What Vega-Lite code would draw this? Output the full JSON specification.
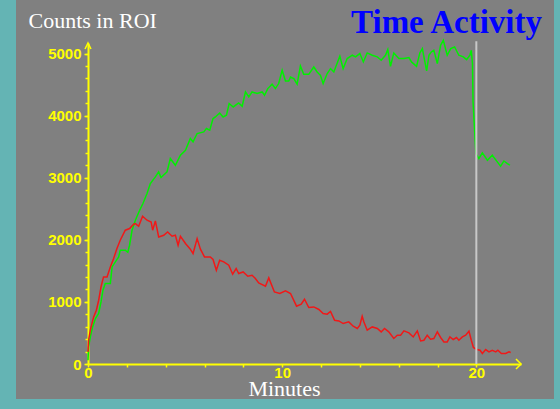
{
  "$schema": "https://vega.github.io/schema/vega-lite/v6.json",
  "width": 538,
  "height": 399,
  "autosize": {"type": "none"},
  "padding": {"left": 16, "top": 0, "right": 6, "bottom": 10},
  "background": "#64b4b4",
  "config": {"view": {"fill": "#808080", "stroke": null}, "axis": {"labelOverlap": false, "labelFlush": false, "labelBound": false, "grid": false}},
  "title": {"text": "Time Activity", "anchor": "end", "frame": "group", "font": "Liberation Serif", "fontSize": 33, "fontWeight": "bold", "color": "#0000ff", "offset": -35, "baseline": "alphabetic", "dx": -12, "dy": 31},
  "resolve": {"axis": {"y": "independent"}},
  "datasets": {
    "roi": [
      {"min":0,"counts":60,"roi":"ROI 1"},{"min":0.03,"counts":275,"roi":"ROI 1"},{"min":0.12,"counts":436,"roi":"ROI 1"},{"min":0.24,"counts":597,"roi":"ROI 1"},{"min":0.38,"counts":733,"roi":"ROI 1"},{"min":0.55,"counts":813,"roi":"ROI 1"},{"min":0.67,"counts":1000,"roi":"ROI 1"},{"min":0.77,"counts":1188,"roi":"ROI 1"},{"min":0.89,"counts":1296,"roi":"ROI 1"},{"min":1.15,"counts":1296,"roi":"ROI 1"},{"min":1.24,"counts":1564,"roi":"ROI 1"},{"min":1.41,"counts":1644,"roi":"ROI 1"},{"min":1.58,"counts":1725,"roi":"ROI 1"},{"min":1.66,"counts":1833,"roi":"ROI 1"},{"min":1.92,"counts":1833,"roi":"ROI 1"},{"min":2.05,"counts":1800,"roi":"ROI 1"},{"min":2.14,"counts":1913,"roi":"ROI 1"},{"min":2.27,"counts":2155,"roi":"ROI 1"},{"min":2.44,"counts":2316,"roi":"ROI 1"},{"min":2.66,"counts":2477,"roi":"ROI 1"},{"min":2.83,"counts":2585,"roi":"ROI 1"},{"min":3.04,"counts":2746,"roi":"ROI 1"},{"min":3.21,"counts":2907,"roi":"ROI 1"},{"min":3.47,"counts":3013,"roi":"ROI 1"},{"min":3.64,"counts":3094,"roi":"ROI 1"},{"min":3.76,"counts":3003,"roi":"ROI 1"},{"min":4.07,"counts":3094,"roi":"ROI 1"},{"min":4.24,"counts":3309,"roi":"ROI 1"},{"min":4.5,"counts":3201,"roi":"ROI 1"},{"min":4.76,"counts":3362,"roi":"ROI 1"},{"min":5.02,"counts":3443,"roi":"ROI 1"},{"min":5.27,"counts":3631,"roi":"ROI 1"},{"min":5.41,"counts":3577,"roi":"ROI 1"},{"min":5.62,"counts":3712,"roi":"ROI 1"},{"min":5.96,"counts":3738,"roi":"ROI 1"},{"min":6.1,"counts":3792,"roi":"ROI 1"},{"min":6.27,"counts":3765,"roi":"ROI 1"},{"min":6.44,"counts":3953,"roi":"ROI 1"},{"min":6.56,"counts":3979,"roi":"ROI 1"},{"min":6.78,"counts":4043,"roi":"ROI 1"},{"min":6.96,"counts":3979,"roi":"ROI 1"},{"min":7.13,"counts":4006,"roi":"ROI 1"},{"min":7.27,"counts":4195,"roi":"ROI 1"},{"min":7.48,"counts":4140,"roi":"ROI 1"},{"min":7.76,"counts":4205,"roi":"ROI 1"},{"min":7.94,"counts":4151,"roi":"ROI 1"},{"min":8.11,"counts":4382,"roi":"ROI 1"},{"min":8.28,"counts":4301,"roi":"ROI 1"},{"min":8.45,"counts":4382,"roi":"ROI 1"},{"min":8.71,"counts":4356,"roi":"ROI 1"},{"min":8.97,"counts":4382,"roi":"ROI 1"},{"min":9.09,"counts":4328,"roi":"ROI 1"},{"min":9.26,"counts":4436,"roi":"ROI 1"},{"min":9.48,"counts":4506,"roi":"ROI 1"},{"min":9.65,"counts":4436,"roi":"ROI 1"},{"min":9.82,"counts":4517,"roi":"ROI 1"},{"min":10.0,"counts":4731,"roi":"ROI 1"},{"min":10.17,"counts":4559,"roi":"ROI 1"},{"min":10.34,"counts":4559,"roi":"ROI 1"},{"min":10.43,"counts":4623,"roi":"ROI 1"},{"min":10.6,"counts":4597,"roi":"ROI 1"},{"min":10.77,"counts":4506,"roi":"ROI 1"},{"min":10.94,"counts":4800,"roi":"ROI 1"},{"min":11.11,"counts":4665,"roi":"ROI 1"},{"min":11.37,"counts":4665,"roi":"ROI 1"},{"min":11.63,"counts":4784,"roi":"ROI 1"},{"min":11.8,"counts":4704,"roi":"ROI 1"},{"min":11.97,"counts":4650,"roi":"ROI 1"},{"min":12.11,"counts":4517,"roi":"ROI 1"},{"min":12.32,"counts":4678,"roi":"ROI 1"},{"min":12.49,"counts":4758,"roi":"ROI 1"},{"min":12.66,"counts":4704,"roi":"ROI 1"},{"min":12.97,"counts":4957,"roi":"ROI 1"},{"min":13.14,"counts":4758,"roi":"ROI 1"},{"min":13.35,"counts":4919,"roi":"ROI 1"},{"min":13.61,"counts":4973,"roi":"ROI 1"},{"min":13.78,"counts":4946,"roi":"ROI 1"},{"min":14.0,"counts":5000,"roi":"ROI 1"},{"min":14.18,"counts":4865,"roi":"ROI 1"},{"min":14.38,"counts":5010,"roi":"ROI 1"},{"min":14.64,"counts":4973,"roi":"ROI 1"},{"min":14.9,"counts":4946,"roi":"ROI 1"},{"min":15.1,"counts":4892,"roi":"ROI 1"},{"min":15.32,"counts":4973,"roi":"ROI 1"},{"min":15.44,"counts":5064,"roi":"ROI 1"},{"min":15.58,"counts":4795,"roi":"ROI 1"},{"min":15.75,"counts":5010,"roi":"ROI 1"},{"min":16.01,"counts":4919,"roi":"ROI 1"},{"min":16.27,"counts":4919,"roi":"ROI 1"},{"min":16.53,"counts":4935,"roi":"ROI 1"},{"min":16.66,"counts":4865,"roi":"ROI 1"},{"min":16.92,"counts":4795,"roi":"ROI 1"},{"min":17.09,"counts":5010,"roi":"ROI 1"},{"min":17.22,"counts":5080,"roi":"ROI 1"},{"min":17.44,"counts":4720,"roi":"ROI 1"},{"min":17.56,"counts":4973,"roi":"ROI 1"},{"min":17.68,"counts":5026,"roi":"ROI 1"},{"min":17.81,"counts":5053,"roi":"ROI 1"},{"min":17.99,"counts":4839,"roi":"ROI 1"},{"min":18.16,"counts":5134,"roi":"ROI 1"},{"min":18.3,"counts":5214,"roi":"ROI 1"},{"min":18.5,"counts":4973,"roi":"ROI 1"},{"min":18.68,"counts":5080,"roi":"ROI 1"},{"min":18.88,"counts":5106,"roi":"ROI 1"},{"min":19.1,"counts":4973,"roi":"ROI 1"},{"min":19.33,"counts":4946,"roi":"ROI 1"},{"min":19.5,"counts":4903,"roi":"ROI 1"},{"min":19.67,"counts":4973,"roi":"ROI 1"},{"min":19.74,"counts":5053,"roi":"ROI 1"},{"min":19.8,"counts":4840,"roi":"ROI 1"},{"min":19.83,"counts":4230,"roi":"ROI 1"},{"min":19.93,"counts":3650,"roi":"ROI 1"},{"min":19.98,"counts":3390,"roi":"ROI 1"},{"min":20.13,"counts":3309,"roi":"ROI 1"},{"min":20.31,"counts":3400,"roi":"ROI 1"},{"min":20.57,"counts":3282,"roi":"ROI 1"},{"min":20.82,"counts":3362,"roi":"ROI 1"},{"min":21.08,"counts":3255,"roi":"ROI 1"},{"min":21.25,"counts":3185,"roi":"ROI 1"},{"min":21.42,"counts":3270,"roi":"ROI 1"},{"min":21.6,"counts":3229,"roi":"ROI 1"},{"min":21.73,"counts":3201,"roi":"ROI 1"},
      {"min":0,"counts":195,"roi":"ROI 2"},{"min":0.03,"counts":383,"roi":"ROI 2"},{"min":0.12,"counts":544,"roi":"ROI 2"},{"min":0.29,"counts":758,"roi":"ROI 2"},{"min":0.43,"counts":866,"roi":"ROI 2"},{"min":0.55,"counts":1027,"roi":"ROI 2"},{"min":0.67,"counts":1242,"roi":"ROI 2"},{"min":0.8,"counts":1403,"roi":"ROI 2"},{"min":0.98,"counts":1403,"roi":"ROI 2"},{"min":1.15,"counts":1564,"roi":"ROI 2"},{"min":1.32,"counts":1699,"roi":"ROI 2"},{"min":1.49,"counts":1860,"roi":"ROI 2"},{"min":1.66,"counts":1994,"roi":"ROI 2"},{"min":1.92,"counts":2155,"roi":"ROI 2"},{"min":2.14,"counts":2182,"roi":"ROI 2"},{"min":2.35,"counts":2251,"roi":"ROI 2"},{"min":2.44,"counts":2262,"roi":"ROI 2"},{"min":2.61,"counts":2219,"roi":"ROI 2"},{"min":2.81,"counts":2380,"roi":"ROI 2"},{"min":3.04,"counts":2316,"roi":"ROI 2"},{"min":3.25,"counts":2288,"roi":"ROI 2"},{"min":3.33,"counts":2155,"roi":"ROI 2"},{"min":3.47,"counts":2304,"roi":"ROI 2"},{"min":3.64,"counts":2047,"roi":"ROI 2"},{"min":3.9,"counts":2074,"roi":"ROI 2"},{"min":4.1,"counts":2127,"roi":"ROI 2"},{"min":4.33,"counts":2058,"roi":"ROI 2"},{"min":4.5,"counts":2074,"roi":"ROI 2"},{"min":4.64,"counts":1913,"roi":"ROI 2"},{"min":4.76,"counts":2058,"roi":"ROI 2"},{"min":5.02,"counts":1940,"roi":"ROI 2"},{"min":5.27,"counts":1850,"roi":"ROI 2"},{"min":5.41,"counts":1779,"roi":"ROI 2"},{"min":5.62,"counts":2020,"roi":"ROI 2"},{"min":5.79,"counts":1850,"roi":"ROI 2"},{"min":6.0,"counts":1725,"roi":"ROI 2"},{"min":6.3,"counts":1725,"roi":"ROI 2"},{"min":6.44,"counts":1683,"roi":"ROI 2"},{"min":6.61,"counts":1510,"roi":"ROI 2"},{"min":6.78,"counts":1671,"roi":"ROI 2"},{"min":6.99,"counts":1644,"roi":"ROI 2"},{"min":7.25,"counts":1591,"roi":"ROI 2"},{"min":7.45,"counts":1446,"roi":"ROI 2"},{"min":7.63,"counts":1538,"roi":"ROI 2"},{"min":7.76,"counts":1457,"roi":"ROI 2"},{"min":7.99,"counts":1483,"roi":"ROI 2"},{"min":8.23,"counts":1414,"roi":"ROI 2"},{"min":8.45,"counts":1430,"roi":"ROI 2"},{"min":8.62,"counts":1377,"roi":"ROI 2"},{"min":8.79,"counts":1306,"roi":"ROI 2"},{"min":9.14,"counts":1253,"roi":"ROI 2"},{"min":9.31,"counts":1387,"roi":"ROI 2"},{"min":9.6,"counts":1161,"roi":"ROI 2"},{"min":9.88,"counts":1135,"roi":"ROI 2"},{"min":10.17,"counts":1177,"roi":"ROI 2"},{"min":10.43,"counts":1135,"roi":"ROI 2"},{"min":10.74,"counts":931,"roi":"ROI 2"},{"min":10.98,"counts":963,"roi":"ROI 2"},{"min":11.15,"counts":1043,"roi":"ROI 2"},{"min":11.37,"counts":910,"roi":"ROI 2"},{"min":11.63,"counts":919,"roi":"ROI 2"},{"min":11.89,"counts":878,"roi":"ROI 2"},{"min":12.11,"counts":813,"roi":"ROI 2"},{"min":12.32,"counts":802,"roi":"ROI 2"},{"min":12.49,"counts":845,"roi":"ROI 2"},{"min":12.7,"counts":705,"roi":"ROI 2"},{"min":12.92,"counts":694,"roi":"ROI 2"},{"min":13.14,"counts":652,"roi":"ROI 2"},{"min":13.43,"counts":678,"roi":"ROI 2"},{"min":13.66,"counts":609,"roi":"ROI 2"},{"min":13.87,"counts":572,"roi":"ROI 2"},{"min":14.0,"counts":625,"roi":"ROI 2"},{"min":14.12,"counts":770,"roi":"ROI 2"},{"min":14.21,"counts":678,"roi":"ROI 2"},{"min":14.38,"counts":544,"roi":"ROI 2"},{"min":14.64,"counts":597,"roi":"ROI 2"},{"min":14.9,"counts":572,"roi":"ROI 2"},{"min":15.1,"counts":517,"roi":"ROI 2"},{"min":15.27,"counts":572,"roi":"ROI 2"},{"min":15.49,"counts":517,"roi":"ROI 2"},{"min":15.75,"counts":411,"roi":"ROI 2"},{"min":15.93,"counts":464,"roi":"ROI 2"},{"min":16.1,"counts":464,"roi":"ROI 2"},{"min":16.27,"counts":533,"roi":"ROI 2"},{"min":16.53,"counts":501,"roi":"ROI 2"},{"min":16.75,"counts":436,"roi":"ROI 2"},{"min":16.96,"counts":533,"roi":"ROI 2"},{"min":17.13,"counts":372,"roi":"ROI 2"},{"min":17.3,"counts":383,"roi":"ROI 2"},{"min":17.47,"counts":464,"roi":"ROI 2"},{"min":17.64,"counts":399,"roi":"ROI 2"},{"min":17.81,"counts":411,"roi":"ROI 2"},{"min":17.99,"counts":517,"roi":"ROI 2"},{"min":18.16,"counts":427,"roi":"ROI 2"},{"min":18.33,"counts":356,"roi":"ROI 2"},{"min":18.5,"counts":356,"roi":"ROI 2"},{"min":18.64,"counts":436,"roi":"ROI 2"},{"min":18.81,"counts":395,"roi":"ROI 2"},{"min":18.98,"counts":427,"roi":"ROI 2"},{"min":19.1,"counts":383,"roi":"ROI 2"},{"min":19.28,"counts":436,"roi":"ROI 2"},{"min":19.45,"counts":464,"roi":"ROI 2"},{"min":19.62,"counts":528,"roi":"ROI 2"},{"min":19.74,"counts":383,"roi":"ROI 2"},{"min":19.85,"counts":266,"roi":"ROI 2"},{"min":20.02,"counts":233,"roi":"ROI 2"},{"min":20.19,"counts":222,"roi":"ROI 2"},{"min":20.31,"counts":169,"roi":"ROI 2"},{"min":20.48,"counts":233,"roi":"ROI 2"},{"min":20.65,"counts":195,"roi":"ROI 2"},{"min":20.82,"counts":222,"roi":"ROI 2"},{"min":21.0,"counts":195,"roi":"ROI 2"},{"min":21.11,"counts":222,"roi":"ROI 2"},{"min":21.29,"counts":169,"roi":"ROI 2"},{"min":21.51,"counts":169,"roi":"ROI 2"},{"min":21.68,"counts":195,"roi":"ROI 2"},{"min":21.77,"counts":185,"roi":"ROI 2"}
    ]
  },
  "data": {"name": "roi"},
  "layer": [
    {
      "mark": {"type": "line", "strokeWidth": 1.5},
      "encoding": {
        "x": {
          "field": "min", "type": "quantitative",
          "scale": {"domain": [0, 22.3], "range": [72, 505], "nice": false, "zero": false},
          "axis": {
            "title": "Minutes", "values": [0, 2, 4, 6, 8, 10, 12, 14, 16, 18, 20], "format": "d",
            "labelExpr": "datum.value % 10 === 0 ? datum.label : ''",
            "offset": -35,
            "domainColor": "#ffff00", "domainWidth": 2,
            "tickColor": "#ffff00", "tickWidth": 1.5, "tickSize": 3,
            "labelColor": "#ffff00", "labelFont": "Liberation Sans", "labelFontSize": 15, "labelFontWeight": "bold",
            "labelPadding": -2,
            "titleColor": "#ffffff", "titleFont": "Liberation Serif", "titleFontSize": 22, "titleFontWeight": "normal",
            "titleX": 268, "titleY": 31, "titleBaseline": "alphabetic", "titleAlign": "center"
          }
        },
        "y": {
          "field": "counts", "type": "quantitative",
          "scale": {"domain": [0, 5170], "range": [364, 43], "nice": false, "zero": false},
          "axis": {
            "orient": "left",
            "title": "Counts in ROI",
            "values": [0, 200, 400, 600, 800, 1000, 1200, 1400, 1600, 1800, 2000, 2200, 2400, 2600, 2800, 3000, 3200, 3400, 3600, 3800, 4000, 4200, 4400, 4600, 4800, 5000],
            "labels": false,
            "offset": -72,
            "domainColor": "#ffff00", "domainWidth": 2,
            "tickColor": "#ffff00", "tickWidth": 1.5, "tickSize": 3,
            "titleColor": "#ffffff", "titleFont": "Liberation Serif", "titleFontSize": 22, "titleFontWeight": "normal",
            "titleAngle": 0, "titleX": -60, "titleY": 27, "titleBaseline": "alphabetic", "titleAlign": "left"
          }
        },
        "color": {"field": "roi", "type": "nominal", "scale": {"domain": ["ROI 1", "ROI 2"], "range": ["#00f000", "#f01818"]}, "legend": null}
      }
    },
    {
      "data": {"values": [{}]},
      "mark": {"type": "rule", "color": "#c8c8c8", "strokeWidth": 2},
      "encoding": {
        "x": {"datum": 20, "type": "quantitative"},
        "y": {
          "datum": 0, "type": "quantitative",
          "axis": {
            "orient": "left", "title": null,
            "values": [0, 1000, 2000, 3000, 4000, 5000], "format": "d",
            "offset": -72, "domain": false,
            "tickColor": "#ffff00", "tickWidth": 1.5, "tickSize": 4,
            "labelColor": "#ffff00", "labelFont": "Liberation Sans", "labelFontSize": 15, "labelFontWeight": "bold",
            "labelPadding": 3
          }
        },
        "y2": {"datum": 5200}
      }
    },
    {
      "data": {"values": [{}]},
      "mark": {"type": "point", "shape": "M-1,-1L0,0L-1,1", "filled": false, "stroke": "#ffff00", "strokeWidth": 1.5, "size": 100, "opacity": 1},
      "encoding": {"x": {"datum": 22.3, "type": "quantitative"}, "y": {"datum": 0, "type": "quantitative", "axis": null}}
    },
    {
      "data": {"values": [{}]},
      "mark": {"type": "point", "shape": "M-0.6,1.2L0,0L0.6,1.2", "filled": false, "stroke": "#ffff00", "strokeWidth": 1.5, "size": 100, "opacity": 1},
      "encoding": {"x": {"datum": 0, "type": "quantitative"}, "y": {"datum": 5170, "type": "quantitative", "axis": null}}
    }
  ]
}
